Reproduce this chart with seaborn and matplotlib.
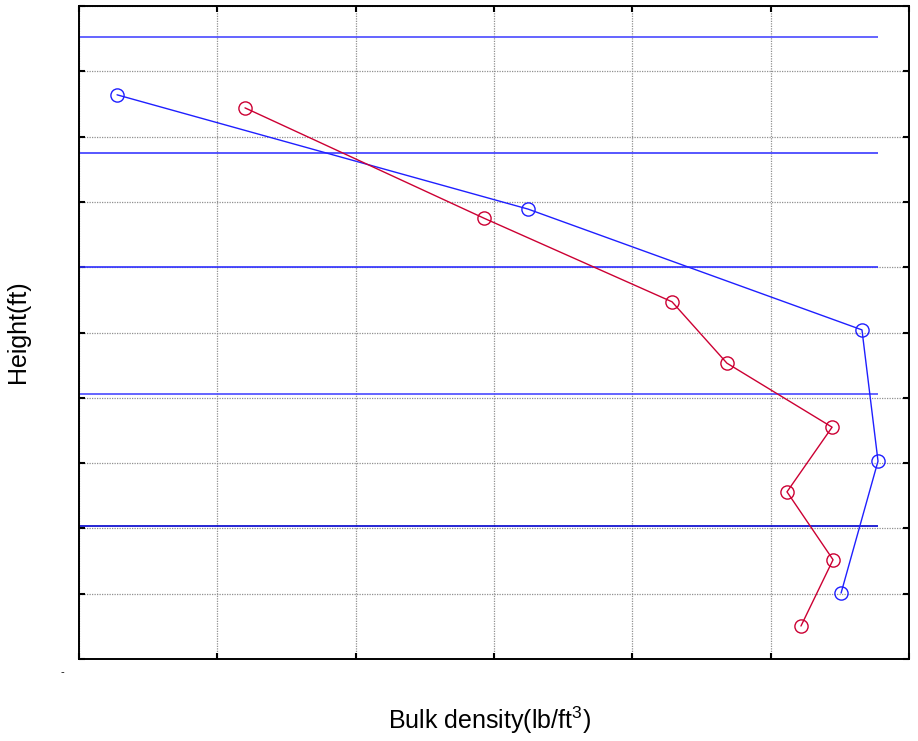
import matplotlib
matplotlib.use("Agg")
import matplotlib.pyplot as plt
import seaborn as sns
import pandas as pd
import numpy as np

# Density profiles (grid units) against height
blue_density = [0.275, 3.246, 5.66, 5.776, 5.509]
blue_height = [8.64, 6.89, 5.04, 3.03, 1.01]

red_density = [1.20, 2.928, 4.287, 4.684, 5.444, 5.118, 5.451, 5.219]
red_height = [8.44, 6.75, 5.47, 4.53, 3.55, 2.56, 1.52, 0.505]

# Layer boundaries
layer_heights = [9.525, 7.75, 6.0, 4.06, 2.04]
layer_colors = ["#4a4aff", "#3a3aff", "#3030ff", "#4a4aff", "#0000cc"]
layer_xmax = 5.776

x_ticks = [0, 1, 2, 3, 4, 5, 6]
y_ticks = [0, 1, 2, 3, 4, 5, 6, 7, 8, 9, 10]

sns.set_theme(style="white")
plt.rcParams["font.family"] = ["Liberation Sans", "DejaVu Sans"]
plt.rcParams["mathtext.fontset"] = "custom"
plt.rcParams["mathtext.rm"] = "Liberation Sans"
plt.rcParams["mathtext.it"] = "Liberation Sans"

fig = plt.figure(figsize=(9.18, 7.41), dpi=100)
ax = fig.add_axes([79 / 918, 1 - 659 / 741, (909 - 79) / 918, (659 - 6) / 741])

ax.set_xlim(0, 6)
ax.set_ylim(0, 10)
ax.set_xticks(x_ticks)
ax.set_yticks(y_ticks)
ax.set_xticklabels([])
ax.set_yticklabels([])
ax.grid(True, color="#909090", linestyle=(0, (1, 1)), linewidth=0.9)
ax.tick_params(direction="in", length=4, width=1.5, color="black",
               top=True, right=True, bottom=True, left=True)
for s in ax.spines.values():
    s.set_color("black")
    s.set_linewidth(1.4)

for h, c in zip(layer_heights, layer_colors):
    ax.hlines(h, 0, layer_xmax, colors=c, linewidth=1.2, zorder=2)

blue_df = pd.DataFrame({"density": blue_density, "height": blue_height})
red_df = pd.DataFrame({"density": red_density, "height": red_height})

sns.lineplot(data=blue_df, x="density", y="height", sort=False, estimator=None,
             color="#1f1fff", linewidth=1.0, marker="o", markersize=9.5,
             markerfacecolor="none", markeredgecolor="#1f1fff",
             markeredgewidth=1.0, ax=ax, zorder=3)
sns.lineplot(data=red_df, x="density", y="height", sort=False, estimator=None,
             color="#cc0033", linewidth=1.0, marker="o", markersize=9.5,
             markerfacecolor="none", markeredgecolor="#cc0033",
             markeredgewidth=1.0, ax=ax, zorder=3)

ax.set_xlabel("")
ax.set_ylabel("")
fig.text(489 / 918, 1 - 720 / 741, "Bulk density(lb/ft$^3$)", ha="center",
         va="center", fontsize=18, color="black")
fig.text(18 / 918, 1 - 332 / 741, "Height(ft)", ha="center", va="center",
         rotation=90, fontsize=18, color="black")
fig.text(62 / 918, 1 - 672 / 741, "-", ha="center", va="center",
         fontsize=8, color="black")

fig.savefig("out.png", dpi=100, facecolor="white")
